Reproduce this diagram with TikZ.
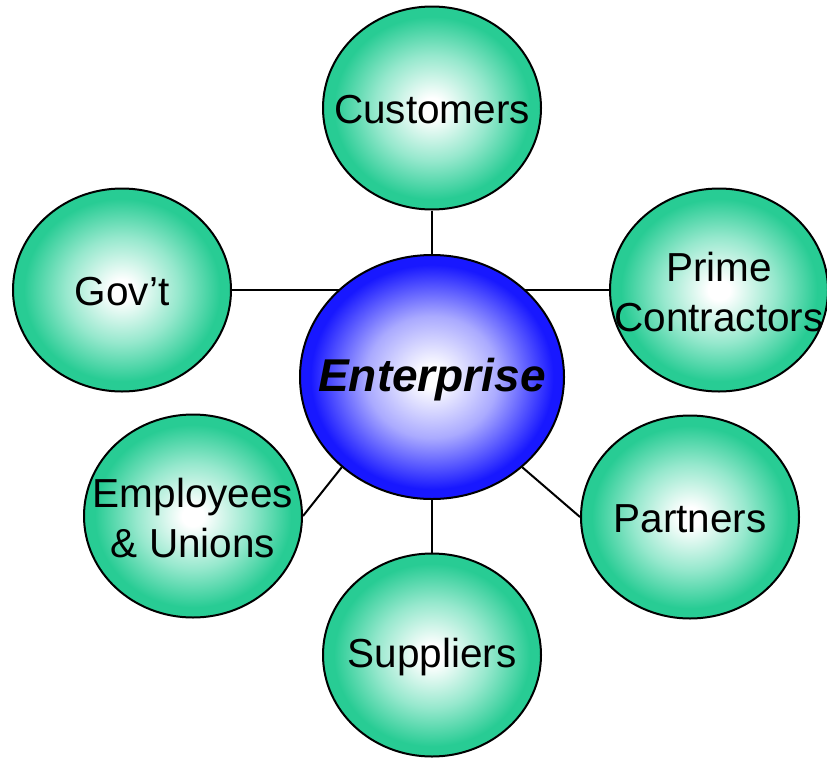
\documentclass[tikz,border=0pt]{standalone}
\usepackage{fontspec}
\setmainfont{Liberation Sans}
\usetikzlibrary{shapes.geometric,backgrounds}
\definecolor{ballgreen}{RGB}{40,204,148}
\definecolor{ballgreenmid}{RGB}{150,232,205}
\definecolor{ballblue}{RGB}{24,24,255}
\definecolor{ballbluemid}{RGB}{170,170,255}
\pgfdeclareradialshading{greenball}{\pgfpoint{0bp}{0bp}}{color(0bp)=(white); color(2.5bp)=(white); color(13bp)=(ballgreenmid); color(22.5bp)=(ballgreen); color(50bp)=(ballgreen)}
\pgfdeclareradialshading{blueball}{\pgfpoint{0bp}{0bp}}{color(0bp)=(white); color(2bp)=(white); color(12.5bp)=(ballbluemid); color(23bp)=(ballblue); color(50bp)=(ballblue)}
\tikzset{
  ball/.style={ellipse, draw=black, line width=2pt, shade, shading=greenball,
    minimum width=218pt, minimum height=203pt, inner sep=0pt},
  bigball/.style={ellipse, draw=black, line width=2pt, shade, shading=blueball,
    minimum width=264pt, minimum height=244pt, inner sep=0pt},
  lbl/.style={font=\fontsize{40.5}{50}\selectfont, align=center, inner sep=0pt, text=black, yshift=-2pt},
  biglbl/.style={font=\fontsize{46}{54}\selectfont\bfseries\itshape, inner sep=0pt, text=black, yshift=-3pt},
  link/.style={draw=black, line width=2pt}
}
\begin{document}
\begin{tikzpicture}[x=1pt,y=-1pt]
\path[use as bounding box] (0,0) rectangle (827,758);
\node[bigball] (ent) at (432,377) {};
\node[ball] (cust) at (432,108) {};
\node[ball] (gov) at (122,290) {};
\node[ball] (prime) at (719,290) {};
\node[ball] (emp) at (193,516) {};
\node[ball] (part) at (690,517) {};
\node[ball] (sup) at (432,655) {};
\node[biglbl] (entt) at (ent.center) {Enterprise};
\node[lbl] (custt) at (cust.center) {Customers};
\node[lbl] (govt) at (gov.center) {Gov’t};
\node[lbl] (primet) at (prime.center) {Prime\\Contractors};
\node[lbl] (empt) at (emp.center) {Employees\\\&~Unions};
\node[lbl] (partt) at (part.center) {Partners};
\node[lbl] (supt) at (sup.center) {Suppliers};
\begin{pgfonlayer}{background}
\draw[link] (cust.south) -- (ent.north);
\draw[link] (sup.north) -- (ent.south);
\draw[link] (gov.east) -- (gov.east -| ent.center);
\draw[link] (prime.west) -- (prime.west -| ent.center);
\draw[link] (emp.east) -- (ent.225);
\draw[link] (ent.-45) -- (part.west);
\end{pgfonlayer}
\end{tikzpicture}
\end{document}
